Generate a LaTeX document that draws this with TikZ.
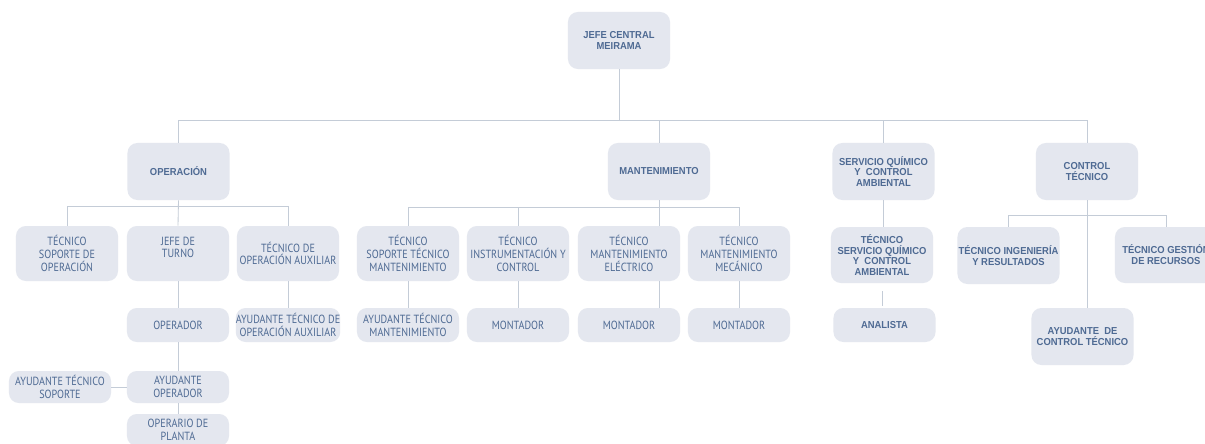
\documentclass[tikz,border=0pt]{standalone}
\usepackage{fontspec}
\setmainfont{PT Sans}
\newfontfamily\orgreg[FakeStretch=0.86]{PT Sans}
\newfontfamily\orgbold[FakeStretch=0.93]{Liberation Sans}
\usepackage{tikz}
\usetikzlibrary{positioning}
\definecolor{boxfill}{HTML}{E4E7EF}
\definecolor{linkgray}{HTML}{C4CCD7}
\definecolor{txtblue}{HTML}{4E6A93}

\begin{document}
\begin{tikzpicture}[x=0.025cm,y=-0.025cm,
  box/.style={fill=boxfill,rounded corners=7pt,minimum width=2.55cm,inner sep=0pt,align=center,text=txtblue,font=\orgreg\fontsize{8.4}{9}\selectfont},
  head/.style={box,font=\orgbold\bfseries\fontsize{7.2}{7.8}\selectfont},
  link/.style={draw=linkgray,line width=0.6pt}]
\clip (0,0) rectangle (1205,443);
\fill[white] (0,0) rectangle (1205,443);
\node[head,minimum height=1.425cm] (jefe) at (619,40.5) {JEFE CENTRAL\\MEIRAMA};
\node[head,minimum height=1.425cm] (op) at (178.5,171.5) {OPERACIÓN};
\node[head,minimum height=1.425cm] (mant) at (659,171.5) {MANTENIMIENTO};
\node[head,minimum height=1.425cm] (serv) at (883.5,171.5) {SERVICIO QUÍMICO\\Y\ \ CONTROL\\AMBIENTAL};
\node[head,minimum height=1.425cm] (ctrl) at (1087,171.5) {CONTROL\\TÉCNICO};
\node[box,minimum height=1.375cm] (tso) at (67,253.5) {TÉCNICO\\SOPORTE DE\\OPERACIÓN};
\node[box,minimum height=1.375cm] (jt) at (178,253.5) {JEFE DE\\TURNO\\\mbox{}};
\node[box,minimum height=1.375cm] (toa) at (288,253.5) {TÉCNICO DE\\OPERACIÓN AUXILIAR};
\node[box,minimum height=1.375cm] (tstm) at (408,253.5) {TÉCNICO\\SOPORTE TÉCNICO\\MANTENIMIENTO};
\node[box,minimum height=1.375cm] (tic) at (518,253.5) {TÉCNICO\\INSTRUMENTACIÓN Y\\CONTROL};
\node[box,minimum height=1.375cm] (tme) at (629,253.5) {TÉCNICO\\MANTENIMIENTO\\ELÉCTRICO};
\node[box,minimum height=1.375cm] (tmm) at (739,253.5) {TÉCNICO\\MANTENIMIENTO\\MECÁNICO};
\node[head,minimum height=1.4cm] (tsq) at (882,255) {TÉCNICO\\SERVICIO QUÍMICO\\Y\ \ CONTROL\\AMBIENTAL};
\node[head,minimum height=1.425cm] (tir) at (1008.5,255.5) {TÉCNICO INGENIERÍA\\Y RESULTADOS};
\node[head,minimum height=1.4cm] (tgr) at (1166,255) {TÉCNICO GESTIÓN\\DE RECURSOS};
\node[box,minimum height=0.85cm] (opr) at (178,325) {OPERADOR};
\node[box,minimum height=0.85cm] (ata) at (288,325) {AYUDANTE TÉCNICO DE\\OPERACIÓN AUXILIAR};
\node[box,minimum height=0.85cm] (atm) at (408,325) {AYUDANTE TÉCNICO\\MANTENIMIENTO};
\node[box,minimum height=0.85cm] (mon1) at (518,325) {MONTADOR};
\node[box,minimum height=0.85cm] (mon2) at (629,325) {MONTADOR};
\node[box,minimum height=0.85cm] (mon3) at (739,325) {MONTADOR};
\node[head,minimum height=0.85cm] (ana) at (884.5,325) {ANALISTA};
\node[head,minimum height=1.425cm] (act) at (1082.5,336.5) {AYUDANTE\ \ DE\\CONTROL TÉCNICO};
\node[box,minimum height=0.8cm] (aop) at (178,387) {AYUDANTE\\OPERADOR};
\node[box,minimum height=0.8cm] (ats) at (60,387) {AYUDANTE TÉCNICO\\SOPORTE};
\node[box,minimum height=0.8cm] (opp) at (178,430) {OPERARIO DE\\PLANTA};
\draw[link] (jefe.south) -- ++(0,52);
\draw[link] (op.north) -- ++(0,-22) -| (ctrl.north);
\draw[link] (mant.north) -- ++(0,-22);
\draw[link] (serv.north) -- ++(0,-22);
\draw[link] (tso.north) -- ++(0,-19) -| (toa.north);
\draw[link] (op.south) -- (jt.north);
\draw[link] (jt.south) -- (opr.north);
\draw[link] (opr.south) -- (aop.north);
\draw[link] (aop.south) -- (opp.north);
\draw[link] (ats.east) -- (aop.west);
\draw[link] (toa.south) -- (ata.north);
\draw[link] (tstm.north) -- ++(0,-18) -| (tmm.north);
\draw[link] (tic.north) -- ++(0,-18);
\draw[link] (mant.south) -- (mant.south |- tme.north);
\draw[link] (tstm.south) -- (atm.north);
\draw[link] (tic.south) -- (mon1.north);
\draw[link] (tme.south -| mant.south) -- (mon2.north -| mant.south);
\draw[link] (tmm.south) -- (mon3.north);
\draw[link] (serv.south) -- (serv.south |- tsq.north);
\draw[link] ([yshift=-0.2cm]tsq.south) -- ([yshift=0.05cm]ana.north -| tsq.south);
\draw[link] (tir.north) -- ++(0,-11) -| (tgr.north);
\draw[link] (ctrl.south) -- (ctrl.south |- act.north);
\end{tikzpicture}
\end{document}
